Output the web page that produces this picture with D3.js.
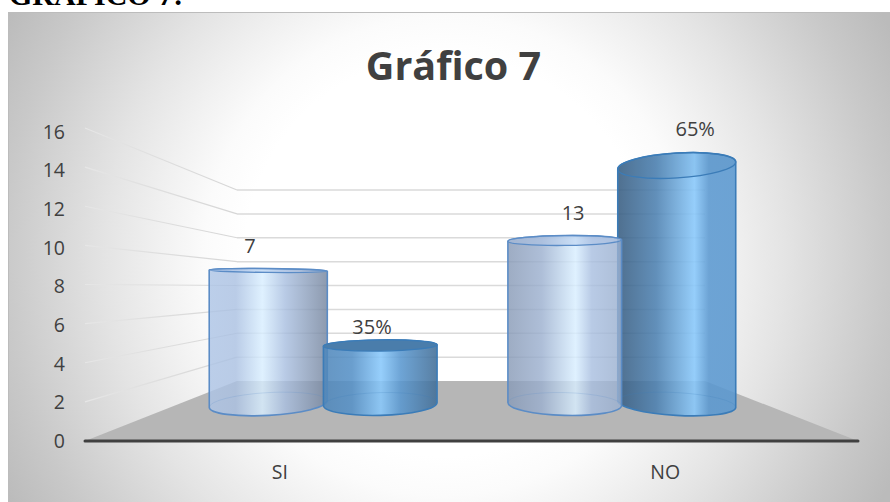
<!DOCTYPE html>
<html>
<head>
<meta charset="utf-8">
<script src="https://cdn.jsdelivr.net/npm/d3@7"></script>
<style>
html,body{margin:0;padding:0;background:#fff;overflow:hidden}
svg{display:block}
text{font-family:"Open Sans",sans-serif;fill:#404040}
</style>
</head>
<body>
<svg id="c" width="890" height="502"></svg>
<script>
// ---- data ----
const categories = ["SI", "NO"];
const seriesNames = ["cantidad", "porcentaje"];
const axisTicks = [0, 2, 4, 6, 8, 10, 12, 14, 16];
const drawnHeightsCantidad = [8.9, 10.9];
const drawnHeightsPorcentaje = [3.9, 15.9];
const labelsCantidad = ["7", "13"];
const labelsPorcentaje = ["35%", "65%"];
const chartTitle = "Gráfico 7";
const headingText = "GRÁFICO 7:";

// ---- geometry ----
const W = 890, H = 502;
const svg = d3.select("#c");
const defs = svg.append("defs");

svg.append("text").text(headingText)
  .attr("x", 9).attr("y", 5)
  .style("font-family", '"Liberation Serif",serif')
  .style("font-weight", 700).style("font-size", "30px").style("fill", "#000");

const bg = defs.append("radialGradient").attr("id", "bg")
  .attr("gradientUnits", "userSpaceOnUse")
  .attr("cx", 445).attr("cy", 256).attr("r", 500);
[[0, "#fff"], [.40, "#fff"], [.48, "#fbfbfb"], [.57, "#f1f1f1"], [.68, "#e4e4e4"], [.88, "#c9c9c9"], [1, "#bbbbbb"]]
  .forEach(([o, c]) => bg.append("stop").attr("offset", o).attr("stop-color", c));

svg.append("rect").attr("x", 8.5).attr("y", 12.5).attr("width", W - 8).attr("height", H - 12)
  .attr("fill", "url(#bg)").attr("stroke", "#bcbcbc").attr("stroke-width", 1);

const yFront = d3.scaleLinear().domain([0, 16]).range([441, 128]);
const yBack = d3.scaleLinear().domain([0, 16]).range([381, 190]);
const yLabel = d3.scaleLinear().domain([0, 16]).range([441, 132]);
const yBar = d3.scaleLinear().domain([0, 16]).range([404, 164]);
const xFrontL = 85, xFrontR = 858, xBackL = 237, xBackR = 705;

// floor
svg.append("path")
  .attr("d", d3.line()([[xFrontL, yFront(0)], [xBackL, yBack(0)], [xBackR, yBack(0)], [xFrontR, yFront(0)]]) + "Z")
  .attr("fill", "#b6b6b6");

// side-wall + back-wall gridlines
const wall = defs.append("linearGradient").attr("id", "wall")
  .attr("gradientUnits", "userSpaceOnUse")
  .attr("x1", xFrontL).attr("x2", xBackL).attr("y1", 0).attr("y2", 0);
wall.append("stop").attr("offset", 0).attr("stop-color", "#e6e6e6");
wall.append("stop").attr("offset", 1).attr("stop-color", "#d6d6d6");

const grid = svg.append("g").attr("fill", "none");
axisTicks.filter(t => t > 0).forEach(t => {
  grid.append("line")
    .attr("x1", xFrontL).attr("y1", yFront(t)).attr("x2", xBackL).attr("y2", yBack(t))
    .attr("stroke", "url(#wall)").attr("stroke-width", 1.2);
  grid.append("line")
    .attr("x1", xBackL).attr("y1", yBack(t)).attr("x2", xBackR).attr("y2", yBack(t))
    .attr("stroke", "#dadada").attr("stroke-width", 1.5);
});

// bars (perspective model around a vanishing point)
const vanishX = 472, eyeY = 290;
const xGroup = d3.scaleBand().domain(categories).range([176, 769]).paddingInner(0).paddingOuter(0);
const xSeries = d3.scalePoint().domain(seriesNames).range([-56, 56]);

const palettes = {
  cantidad: { dark: "#74849d", mid: "#a9bfe0", peak: "#d8eeff", stroke: "#5b8cc6", cap: "#a9c4e8", op: .82 },
  porcentaje: { dark: "#375c80", mid: "#5a98d0", peak: "#88c8fb", stroke: "#3b7cb8", cap: "#4a7dab", op: .88 }
};

const bars = [];
categories.forEach((cat, i) => {
  bars.push({ cat, s: "cantidad", v: drawnHeightsCantidad[i], label: labelsCantidad[i] });
  bars.push({ cat, s: "porcentaje", v: drawnHeightsPorcentaje[i], label: labelsPorcentaje[i] });
});
bars.forEach(b => {
  b.cx = xGroup(b.cat) + xGroup.bandwidth() / 2 + xSeries(b.s);
  b.dx = b.cx - vanishX;
  b.rx = (110 + Math.abs(b.dx) * 0.04) / 2;
  b.top = yBar(b.v);
  b.base = yBar(0);
});
bars.sort((a, b) => Math.abs(b.dx) - Math.abs(a.dx));

const ryAt = y => Math.abs(y - eyeY) * 0.1;
const tiltAt = (dx, y) => 1.4e-4 * dx * (y - eyeY);

function edge(b, y) {
  const t = tiltAt(b.dx, y) * Math.PI / 180;
  return { lx: b.cx - b.rx * Math.cos(t), ly: y - b.rx * Math.sin(t), rx: b.cx + b.rx * Math.cos(t), ry: y + b.rx * Math.sin(t) };
}
function arc(b, y, sweepFlag, fromLeft) {
  const e = edge(b, y), r = ryAt(y), t = tiltAt(b.dx, y);
  const end = fromLeft ? `${e.rx} ${e.ry}` : `${e.lx} ${e.ly}`;
  return `A${b.rx} ${r} ${t} 0 ${sweepFlag} ${end}`;
}

const barLayer = svg.append("g");
bars.forEach((b, i) => {
  const p = palettes[b.s], side = b.dx / 205;
  const gid = "g" + i;
  const mixL = d3.interpolateRgb(p.dark, p.mid)(0.5 - 0.5 * side + (b.s === "cantidad" ? 0.1 : 0));
  const mixR = d3.interpolateRgb(p.dark, p.mid)(0.5 + 0.5 * side);
  const peakPos = 0.55 + 0.1 * side;
  const g = defs.append("linearGradient").attr("id", gid).attr("x1", 0).attr("x2", 1).attr("y1", 0).attr("y2", 0);
  [[0, mixL], [peakPos * 0.5, d3.interpolateRgb(mixL, p.mid)(0.6)], [peakPos, p.peak],
   [peakPos + (1 - peakPos) * 0.35, p.mid], [1, mixR]]
    .forEach(([o, c]) => g.append("stop").attr("offset", o).attr("stop-color", c));

  const T = edge(b, b.top), B = edge(b, b.base);
  const body = `M${T.lx} ${T.ly}` + arc(b, b.top, 1, true) + `L${B.rx} ${B.ry}` + arc(b, b.base, 1, false) + "Z";
  const group = barLayer.append("g");

  group.append("path").attr("d", body).attr("fill", `url(#${gid})`).attr("fill-opacity", p.op)
    .attr("stroke", p.stroke).attr("stroke-width", 1.6).attr("stroke-linejoin", "round");

  // far side of the base
  group.append("path").attr("d", `M${B.lx} ${B.ly}` + arc(b, b.base, 1, true))
    .attr("fill", "none").attr("stroke", p.stroke).attr("stroke-opacity", .2).attr("stroke-width", 1);

  // top ellipse
  const capPath = `M${T.lx} ${T.ly}` + arc(b, b.top, 1, true) + arc(b, b.top, 1, false) + "Z";
  const below = b.top > eyeY;
  group.append("path").attr("d", capPath)
    .attr("fill", below ? p.cap : (b.s === "cantidad" ? p.cap : "#3f78ab"))
    .attr("fill-opacity", below ? 1 : (b.s === "cantidad" ? .4 : .1))
    .attr("stroke", p.stroke).attr("stroke-width", 1.3);
});

// value labels
svg.append("g").selectAll("text").data(bars).join("text")
  .text(d => d.label)
  .attr("x", d => d.cx + d.dx * 0.09)
  .attr("y", d => d.top - (d.top > eyeY ? 19 : 22 + 1.2 * ryAt(d.top)))
  .attr("dy", "0.35em")
  .attr("text-anchor", "middle")
  .style("font-size", "20px");

// baseline
svg.append("line").attr("x1", xFrontL).attr("x2", xFrontR).attr("y1", 441).attr("y2", 441)
  .attr("stroke", "#404040").attr("stroke-width", 3).attr("stroke-linecap", "round");

// axes (text only, as in the reference)
const axY = svg.append("g").attr("transform", "translate(65,0)")
  .call(d3.axisLeft(yLabel).tickValues(axisTicks).tickSize(0).tickPadding(0));
const xLabels = d3.scaleBand().domain(categories).range([87, 858]);
const axX = svg.append("g").attr("transform", "translate(0,472)")
  .call(d3.axisBottom(xLabels).tickSize(0).tickPadding(0));
[axY, axX].forEach(a => {
  a.select(".domain").remove();
  a.selectAll("text").style("font-family", '"Open Sans",sans-serif').style("font-size", "19.5px").style("fill", "#404040");
});
axX.selectAll("text").attr("dy", "0.35em").attr("y", 0);

// title
svg.append("text").text(chartTitle)
  .attr("x", 453.5).attr("y", 80).attr("text-anchor", "middle")
  .style("font-weight", 700).style("font-size", "39.5px");
</script>
</body>
</html>
